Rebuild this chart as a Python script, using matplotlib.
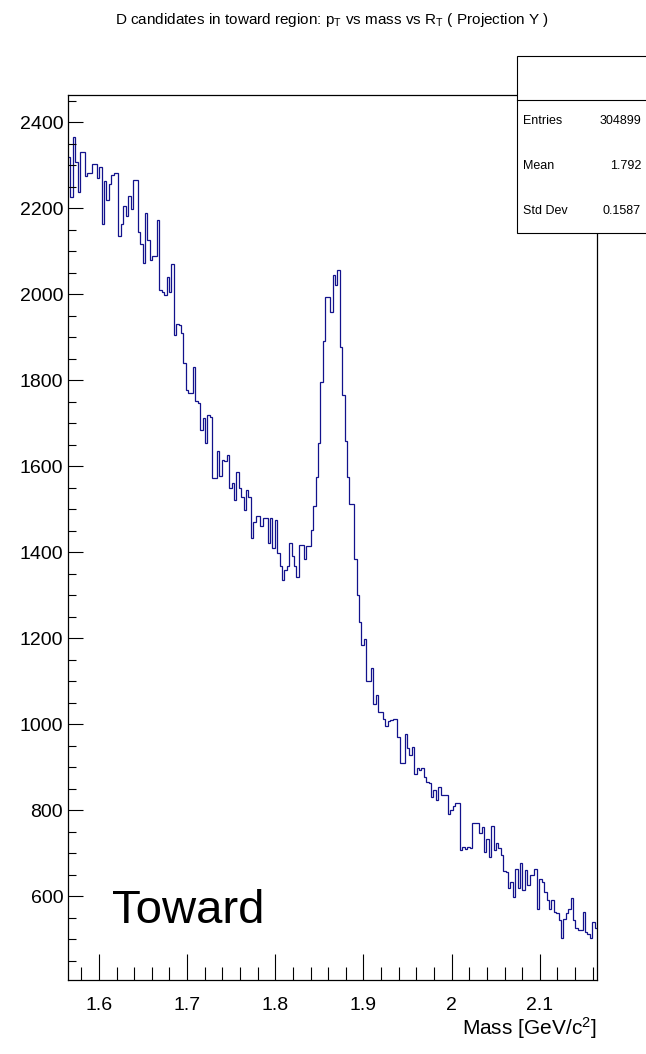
import numpy as np
import matplotlib.pyplot as plt
from matplotlib.patches import Rectangle
from matplotlib.ticker import MultipleLocator, FuncFormatter

plt.rcParams['font.family'] = ['Liberation Sans', 'DejaVu Sans']
plt.rcParams['mathtext.fontset'] = 'custom'
plt.rcParams['mathtext.rm'] = 'Liberation Sans'
plt.rcParams['mathtext.it'] = 'Liberation Sans'

# histogram range (GeV/c^2) and bin contents
mass_lo, mass_hi = 1.5649, 2.1649
counts = [
    2319, 2225, 2366, 2308, 2238, 2331, 2331, 2274, 2281, 2281,
    2302, 2302, 2269, 2295, 2164, 2264, 2219, 2255, 2277, 2282,
    2282, 2136, 2164, 2205, 2181, 2228, 2197, 2265, 2265, 2145,
    2116, 2073, 2188, 2126, 2079, 2089, 2089, 2172, 2009, 2005,
    1998, 2039, 2006, 2070, 1905, 1931, 1928, 1909, 1839, 1777,
    1770, 1770, 1831, 1752, 1746, 1684, 1711, 1653, 1719, 1715,
    1572, 1572, 1636, 1577, 1615, 1611, 1626, 1549, 1560, 1521,
    1587, 1549, 1529, 1498, 1545, 1529, 1432, 1471, 1484, 1484,
    1460, 1479, 1479, 1421, 1479, 1409, 1475, 1397, 1367, 1336,
    1359, 1367, 1421, 1390, 1367, 1343, 1417, 1416, 1385, 1414,
    1414, 1451, 1507, 1575, 1653, 1796, 1891, 1994, 1994, 1959,
    2044, 2021, 2056, 1878, 1765, 1659, 1575, 1513, 1513, 1385,
    1300, 1238, 1184, 1199, 1101, 1101, 1130, 1047, 1068, 1029,
    1029, 1013, 996, 1007, 1009, 1013, 1013, 971, 909, 909,
    978, 944, 928, 947, 885, 897, 893, 897, 878, 866,
    862, 831, 847, 823, 853, 835, 835, 835, 792, 800,
    809, 816, 816, 707, 715, 709, 715, 711, 771, 771,
    769, 746, 761, 703, 734, 692, 763, 707, 724, 711,
    695, 659, 657, 618, 633, 599, 664, 618, 678, 614,
    660, 626, 649, 649, 664, 569, 641, 633, 610, 591,
    571, 591, 564, 560, 544, 502, 548, 560, 571, 595,
    544, 525, 521, 521, 564, 517, 513, 502, 540, 525,
]
edges = np.linspace(mass_lo, mass_hi, len(counts) + 1)

stat_names = ['Entries', 'Mean', 'Std Dev']
stat_values = ['304899', '1.792', '0.1587']

W, H = 646, 1054
fig = plt.figure(figsize=(W / 100, H / 100), dpi=100)
ax = fig.add_axes([68 / W, 74 / H, 529 / W, 885 / H])

ax.stairs(counts, edges, baseline=None, color='#12128c', lw=0.9)

ax.set_xlim(mass_lo, mass_hi)
ax.set_ylim(405, 2463)

ax.xaxis.set_major_locator(MultipleLocator(0.1))
ax.xaxis.set_minor_locator(MultipleLocator(0.02))
ax.xaxis.set_major_formatter(FuncFormatter(lambda v, p: '%g' % round(v, 3)))
ax.yaxis.set_major_locator(MultipleLocator(200))
ax.yaxis.set_minor_locator(MultipleLocator(50))

ax.tick_params(axis='both', which='both', direction='in', width=0.8,
               top=False, right=False, labelsize=14, colors='black')
ax.tick_params(axis='x', which='major', length=18.5, pad=12)
ax.tick_params(axis='x', which='minor', length=9.3)
ax.tick_params(axis='y', which='major', length=10.8, pad=3.5)
ax.tick_params(axis='y', which='minor', length=5.6)
for s in ax.spines.values():
    s.set_linewidth(0.9)

ax.text(0.083, 0.0644, 'Toward', transform=ax.transAxes, fontsize=34,
        va='baseline', ha='left')

fig.text(597 / W, 1 - 1028 / H, r'Mass [GeV/c$^{2}$]', ha='right',
         va='center', fontsize=15)

fig.text(332 / W, 1 - 20 / H,
         r'D candidates in toward region: p$_{\mathrm{T}}$ vs mass vs R$_{\mathrm{T}}$ ( Projection Y )',
         ha='center', va='center', fontsize=11)

# stats box
box = Rectangle((517 / W, 1 - 233 / H), 0.25, (233 - 56) / H,
                transform=fig.transFigure, facecolor='white',
                edgecolor='black', lw=0.8, zorder=5)
fig.add_artist(box)
fig.add_artist(plt.Line2D([517 / W, 1], [1 - 100 / H] * 2,
                          transform=fig.transFigure, color='black',
                          lw=0.8, zorder=6))
for i, (n, v) in enumerate(zip(stat_names, stat_values)):
    y = 1 - (121 + 45 * i) / H
    fig.text(523 / W, y, n, ha='left', va='center', fontsize=9, zorder=7)
    fig.text(641 / W, y, v, ha='right', va='center', fontsize=9, zorder=7)

fig.savefig('out.png', dpi=100)
